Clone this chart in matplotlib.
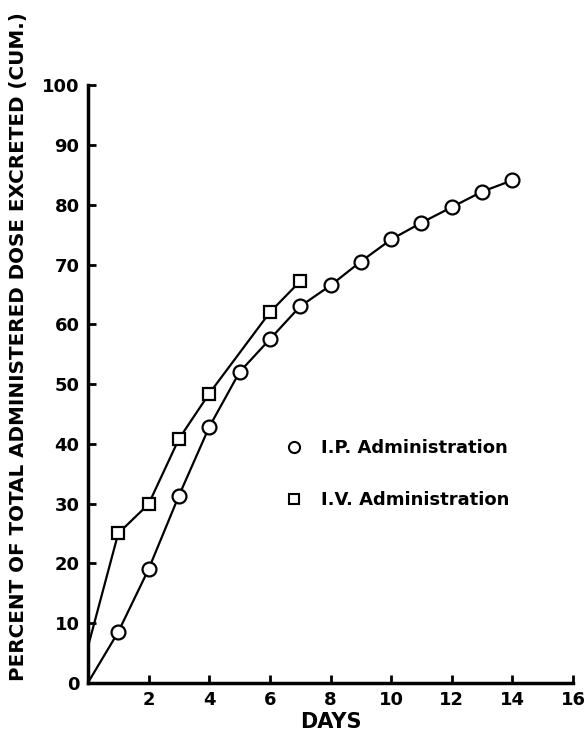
import matplotlib.pyplot as plt
from matplotlib.lines import Line2D

# I.P. administration, cumulative % excreted
ip_days = [1, 2, 3, 4, 5, 6, 7, 8, 9, 10, 11, 12, 13, 14]
ip_pct = [8.5, 19.0, 31.3, 42.8, 52.0, 57.5, 63.0, 66.5, 70.5, 74.2, 77.0, 79.6, 82.2, 84.1]

# I.V. administration, cumulative % excreted
iv_days = [1, 2, 3, 4, 6, 7]
iv_pct = [25.0, 29.9, 40.8, 48.4, 62.0, 67.2]

# curve start points (drawn line only, no marker)
ip_start = (0, 0)
iv_start = (0, 6)

xticks = [2, 4, 6, 8, 10, 12, 14, 16]
yticks = [0, 10, 20, 30, 40, 50, 60, 70, 80, 90, 100]

plt.rcParams['font.family'] = ['DejaVu Sans']
plt.rcParams['font.weight'] = 'bold'

fig = plt.figure(figsize=(5.86, 7.35), dpi=100)
ax = fig.add_axes([0.150, 0.071, 0.828, 0.813])

ax.plot([ip_start[0]] + ip_days, [ip_start[1]] + ip_pct, color='black', lw=1.6, zorder=2)
ax.plot([iv_start[0]] + iv_days, [iv_start[1]] + iv_pct, color='black', lw=1.6, zorder=2)
ax.plot(ip_days, ip_pct, 'o', ms=10, mfc='white', mec='black', mew=1.6, ls='none', zorder=3)
ax.plot(iv_days, iv_pct, 's', ms=9, mfc='white', mec='black', mew=1.6, ls='none', zorder=3)

ax.set_xlim(0, 16)
ax.set_ylim(0, 100)
ax.set_xticks(xticks)
ax.set_yticks(yticks)
ax.tick_params(direction='in', length=6, width=2, labelsize=13, pad=6)
for s in ['top', 'right']:
    ax.spines[s].set_visible(False)
for s in ['left', 'bottom']:
    ax.spines[s].set_linewidth(2.5)

ax.set_xlabel('DAYS', fontsize=15, fontweight='bold', labelpad=2)
fig.text(0.031, 0.528, 'PERCENT OF TOTAL ADMINISTERED DOSE EXCRETED (CUM.)',
         rotation=90, ha='center', va='center', fontsize=14.3)

handles = [
    Line2D([], [], marker='o', ls='none', ms=8, mfc='white', mec='black', mew=1.5),
    Line2D([], [], marker='s', ls='none', ms=7, mfc='white', mec='black', mew=1.5),
]
ax.legend(handles, ['I.P. Administration', 'I.V. Administration'],
          loc='upper left', bbox_to_anchor=(0.458, 0.425), bbox_transform=fig.transFigure,
          frameon=False, fontsize=13, handlelength=1.0, handletextpad=1.0,
          labelspacing=1.9)

fig.savefig('out.png', dpi=100)
